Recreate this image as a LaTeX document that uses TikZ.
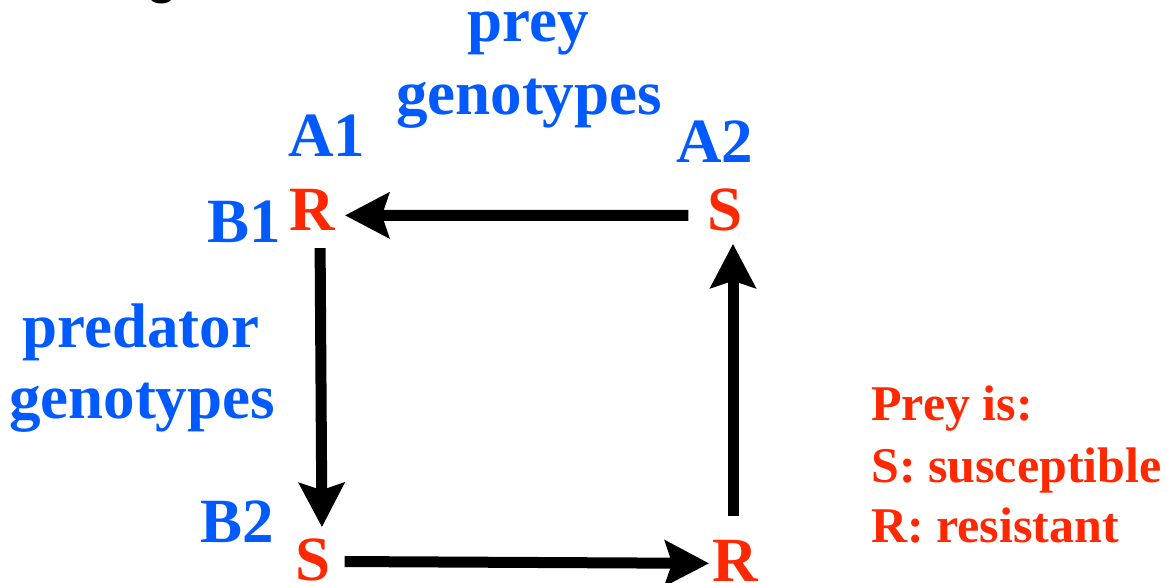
\documentclass[tikz,border=0pt]{standalone}
\usepackage{fontspec}
\setmainfont{Liberation Serif}
\newfontfamily\titlefont{Liberation Sans}
\usetikzlibrary{arrows.meta}
\definecolor{gblue}{RGB}{0,90,255}
\definecolor{gred}{RGB}{255,40,0}
\tikzset{
  lbl/.style={inner sep=0pt, anchor=base, text=gblue, font=\bfseries\fontsize{63}{73}\selectfont},
  geno/.style={inner sep=0pt, anchor=base, text=gred, font=\bfseries\fontsize{63}{73}\selectfont},
  legend/.style={inner sep=0pt, anchor=base west, text=gred, font=\bfseries\fontsize{50}{61}\selectfont},
  arr/.style={line width=11pt, -{Stealth[length=44pt, width=45pt, inset=7pt]}},
}
\begin{document}
\begin{tikzpicture}[x=1pt, y=-1pt]
\clip (0,0) rectangle (1167,583);
\fill[white] (0,0) rectangle (1167,583);
% partial title glyph cut off at the top
\node[inner sep=0pt, anchor=base, font=\titlefont\fontsize{60}{66}\selectfont] (title) at (162,-8) {g};
% labels
\node[lbl] (prey) at (528,42) {prey};
\node[lbl] (preyg) at (529,115) {genotypes};
\node[lbl] (A1) at (327,157) {A1};
\node[lbl] (A2) at (715,162) {A2};
\node[lbl] (B1) at (244,242) {B1};
\node[lbl] (B2) at (237,542) {B2};
\node[lbl] (pred) at (141,347) {predator};
\node[lbl] (predg) at (142,418) {genotypes};
% genotype states
\node[geno] (R1) at (312,230) {R};
\node[geno] (S1) at (725,230) {S};
\node[geno] (S2) at (313,580) {S};
\node[geno] (R2) at (735,581) {R};
% arrows
\draw[arr, shorten <=19pt, shorten >=10pt] ([yshift=-6pt]S1.west) -- ([yshift=-6pt]R1.east);
\draw[arr, shorten <=18pt, shorten >=11pt] ([xshift=8pt]R1.south) -- ([xshift=9pt]S2.north);
\draw[arr, shorten <=14pt, shorten >=3pt] ([yshift=-2pt]S2.east) -- ([yshift=-3pt]R2.west);
\draw[arr, shorten <=24pt, shorten >=13pt] ([xshift=-2pt]R2.north) -- ([xshift=8pt]S1.south);
% legend
\node[legend] (L1) at (871,420) {Prey is:};
\node[legend] (L2) at (871,482) {S: susceptible};
\node[legend] (L3) at (871,542) {R: resistant};
\end{tikzpicture}
\end{document}
